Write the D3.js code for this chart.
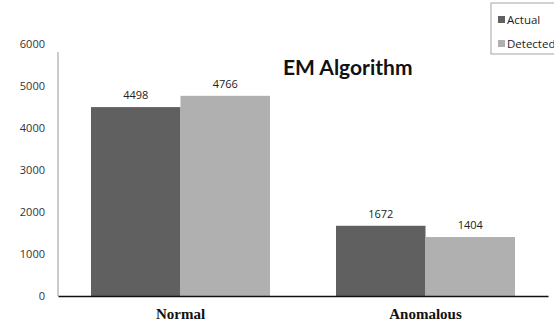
<!DOCTYPE html>
<html>
<head>
<meta charset="utf-8">
<script src="https://cdn.jsdelivr.net/npm/d3@7"></script>
<style>
  body { margin: 0; background: #fff; }
  svg { display: block; }
</style>
</head>
<body>
<svg id="chart" width="554" height="321"></svg>
<script>
// data //
const categories = ['Normal', 'Anomalous']
const seriesNames = ['Actual', 'Detected']
const actualValues = [4498, 1672]
const detectedValues = [4766, 1404]
const yTicks = [0, 1000, 2000, 3000, 4000, 5000, 6000]
const colors = ['#606060', '#b0b0b0']

const svg = d3.select('#chart')

// scales //
const xScale = d3.scaleBand()
    .domain(categories)
    .range([58, 548])
    .paddingInner(0)
    .paddingOuter(0)

const yScale = d3.scaleLinear()
    .domain([0, 6000])
    .range([296, 44])

const inner = d3.scaleBand()
    .domain(seriesNames)
    .range([33, xScale.bandwidth() - 33])

const rows = categories.map((c, i) => ({
    category: c,
    values: [actualValues[i], detectedValues[i]]
}))

// y axis //
const yAxis = d3.axisLeft(yScale)
    .tickValues(yTicks)
    .tickSize(0)
    .tickPadding(13)
    .tickFormat(d3.format('d'))

const gy = svg.append('g')
    .attr('transform', 'translate(58,0)')
    .call(yAxis)
gy.select('.domain').remove()
gy.selectAll('text')
    .attr('font-family', 'Open Sans, sans-serif')
    .attr('font-size', 11)
    .attr('fill', '#333')

svg.append('line')
    .attr('x1', 58).attr('x2', 58)
    .attr('y1', 52).attr('y2', yScale(0))
    .attr('stroke', '#a8a8a8')
    .attr('stroke-width', 1.2)

// bars //
const groups = svg.selectAll('.group')
    .data(rows)
    .join('g')
    .attr('class', 'group')
    .attr('transform', d => `translate(${xScale(d.category)},0)`)

groups.selectAll('rect')
    .data(d => d.values.map((v, i) => ({ name: seriesNames[i], value: v, i })))
    .join('rect')
    .attr('x', d => inner(d.name))
    .attr('width', inner.bandwidth())
    .attr('y', d => yScale(d.value))
    .attr('height', d => yScale(0) - yScale(d.value))
    .attr('fill', d => colors[d.i])

groups.selectAll('.val')
    .data(d => d.values.map((v, i) => ({ name: seriesNames[i], value: v })))
    .join('text')
    .attr('class', 'val')
    .attr('x', d => inner(d.name) + inner.bandwidth() / 2)
    .attr('y', d => yScale(d.value) - 8)
    .attr('text-anchor', 'middle')
    .attr('font-family', 'Open Sans, sans-serif')
    .attr('font-size', 11)
    .attr('fill', '#222')
    .text(d => d.value)

// x axis //
const xAxis = d3.axisBottom(xScale).tickSize(0).tickPadding(12)
const gx = svg.append('g')
    .attr('transform', `translate(0,${yScale(0)})`)
    .call(xAxis)
gx.select('.domain')
    .attr('stroke', '#111')
    .attr('stroke-width', 1.3)
gx.selectAll('text')
    .attr('font-family', 'Liberation Serif, Times New Roman, serif')
    .attr('font-weight', 'bold')
    .attr('font-size', 15)
    .attr('fill', '#111')

// title //
svg.append('text')
    .attr('x', 283)
    .attr('y', 75)
    .attr('font-family', 'Lato, sans-serif')
    .attr('font-weight', 'bold')
    .attr('font-size', 21)
    .attr('fill', '#111')
    .text('EM Algorithm')

// legend //
const legend = svg.append('g').attr('transform', 'translate(491,3)')
legend.append('rect')
    .attr('width', 80)
    .attr('height', 51)
    .attr('fill', '#fff')
    .attr('stroke', '#9ba5b0')

seriesNames.forEach((name, i) => {
    legend.append('rect')
        .attr('x', 7)
        .attr('y', 13 + i * 24)
        .attr('width', 7)
        .attr('height', 7)
        .attr('fill', colors[i])
    legend.append('text')
        .attr('x', 16)
        .attr('y', 21 + i * 24)
        .attr('font-family', 'Open Sans, sans-serif')
        .attr('font-size', 11.5)
        .attr('fill', '#222')
        .text(name)
})
</script>
</body>
</html>
